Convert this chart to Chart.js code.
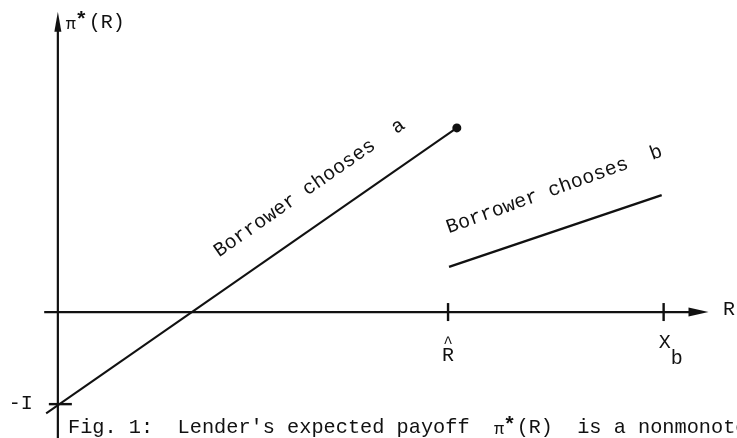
<!DOCTYPE html>
<html>
<head>
<meta charset="utf-8">
<script src="https://cdn.jsdelivr.net/npm/chart.js@4/dist/chart.umd.min.js"></script>
<style>
  html, body { margin: 0; padding: 0; background: #fff; }
  #wrap { width: 737px; height: 438px; }
</style>
</head>
<body>
<div id="wrap"><canvas id="fig" width="737" height="438"></canvas></div>
<script>
// データ（R軸・π*軸の値）
var lineA_R = [-0.12, 4.09];
var lineA_pi = [-1.1, 2.0];
var lineB_R = [4.01, 6.19];
var lineB_pi = [0.49, 1.27];
var xTickValues = [4, 6.21];
var xTickLabels = ["R", "X"];
var yTickValues = [-1];
var yTickLabels = ["-I"];
var axisX = [-0.14, 6.67];
var axisY = [-1.4, 3.26];

var FONT = '"Liberation Mono", "Courier New", monospace';

function pts(xs, ys) {
  return xs.map(function (x, i) { return { x: x, y: ys[i] }; });
}

// 軸・目盛り・文字
var figurePlugin = {
  id: "figure",
  afterDatasetsDraw: function (chart) {
    var ctx = chart.ctx;
    var sx = chart.scales.x, sy = chart.scales.y;
    var x0 = sx.getPixelForValue(0), y0 = sy.getPixelForValue(0);
    ctx.save();
    ctx.strokeStyle = "#111";
    ctx.fillStyle = "#111";
    ctx.lineWidth = 2.2;

    // 横軸
    var xl = sx.getPixelForValue(axisX[0]), xr = sx.getPixelForValue(axisX[1]);
    ctx.beginPath(); ctx.moveTo(xl, y0); ctx.lineTo(xr - 12, y0); ctx.stroke();
    ctx.beginPath(); ctx.moveTo(xr, y0); ctx.lineTo(xr - 20, y0 - 4.5); ctx.lineTo(xr - 20, y0 + 4.5); ctx.closePath(); ctx.fill();

    // 縦軸
    var yb = sy.getPixelForValue(axisY[0]), yt = sy.getPixelForValue(axisY[1]);
    ctx.beginPath(); ctx.moveTo(x0, yb); ctx.lineTo(x0, yt + 12); ctx.stroke();
    ctx.beginPath(); ctx.moveTo(x0, yt); ctx.lineTo(x0 - 3.5, yt + 20); ctx.lineTo(x0 + 3.5, yt + 20); ctx.closePath(); ctx.fill();

    // 目盛り
    ctx.lineWidth = 2.4;
    xTickValues.forEach(function (v) {
      var px = sx.getPixelForValue(v);
      ctx.beginPath(); ctx.moveTo(px, y0 - 9); ctx.lineTo(px, y0 + 9); ctx.stroke();
    });
    yTickValues.forEach(function (v) {
      var py = sy.getPixelForValue(v);
      ctx.beginPath(); ctx.moveTo(x0 - 9, py); ctx.lineTo(x0 + 14, py); ctx.stroke();
    });

    ctx.textBaseline = "middle";
    ctx.font = "20px " + FONT;

    // 目盛りラベル
    ctx.textAlign = "center";
    var pR = sx.getPixelForValue(xTickValues[0]);
    ctx.fillText(xTickLabels[0], pR, y0 + 44);
    ctx.font = "16px " + FONT;
    ctx.fillText("^", pR, y0 + 32);
    ctx.font = "20px " + FONT;
    var pX = sx.getPixelForValue(xTickValues[1]);
    ctx.fillText(xTickLabels[1], pX + 1, y0 + 31);
    ctx.fillText("b", pX + 13, y0 + 47);
    ctx.textAlign = "right";
    yTickValues.forEach(function (v, i) {
      ctx.fillText(yTickLabels[i], x0 - 25, sy.getPixelForValue(v));
    });

    // 軸ラベル
    ctx.textAlign = "left";
    ctx.fillText("R", 723, y0 - 2);
    drawPi(ctx, x0 + 8, 23);

    // 線のラベル
    ctx.font = "20px " + FONT;
    var aAng = Math.atan2(sy.getPixelForValue(lineA_pi[1]) - sy.getPixelForValue(lineA_pi[0]),
                          sx.getPixelForValue(lineA_R[1]) - sx.getPixelForValue(lineA_R[0]));
    ctx.save();
    ctx.translate(sx.getPixelForValue(1.62), sy.getPixelForValue(0.64));
    ctx.rotate(aAng);
    ctx.fillText("Borrower chooses  a", 0, 0);
    ctx.restore();

    ctx.save();
    ctx.translate(sx.getPixelForValue(3.99), sy.getPixelForValue(0.91));
    ctx.rotate(-19.8 * Math.PI / 180);
    ctx.fillText("Borrower chooses  b", 0, 0);
    ctx.restore();

    // キャプション
    var cx = 68, cy = 428;
    ctx.font = "20.3px " + FONT;
    var s1 = "Fig. 1:  Lender's expected payoff  ";
    ctx.fillText(s1, cx, cy);
    cx += ctx.measureText(s1).width;
    cx = drawPi(ctx, cx, cy);
    ctx.font = "20.3px " + FONT;
    ctx.fillText("  is a nonmonotonic function of R", cx, cy);

    ctx.restore();
  }
};

function drawPi(ctx, x, y) {
  ctx.font = "17px " + FONT;
  ctx.fillText("\u03C0", x, y + 1);
  x += ctx.measureText("\u03C0").width;
  ctx.font = "bold 21px " + FONT;
  ctx.fillText("*", x - 1, y - 2);
  x += ctx.measureText("*").width;
  ctx.font = "20px " + FONT;
  ctx.fillText("(R)", x, y);
  return x + ctx.measureText("(R)").width;
}

new Chart(document.getElementById("fig"), {
  type: "scatter",
  data: {
    datasets: [
      {
        label: "Borrower chooses a",
        data: pts(lineA_R, lineA_pi),
        showLine: true,
        borderColor: "#111",
        backgroundColor: "#111",
        borderWidth: 2,
        pointRadius: [0, 4.5],
        pointBorderWidth: 0
      },
      {
        label: "Borrower chooses b",
        data: pts(lineB_R, lineB_pi),
        showLine: true,
        borderColor: "#111",
        borderWidth: 2.4,
        pointRadius: 0
      }
    ]
  },
  options: {
    responsive: false,
    animation: false,
    layout: { padding: 0 },
    plugins: { legend: { display: false }, tooltip: { enabled: false } },
    scales: {
      x: { type: "linear", min: -0.547, max: 6.916, display: false },
      y: { type: "linear", min: -1.319, max: 3.340, display: false }
    }
  },
  plugins: [figurePlugin]
});
</script>
</body>
</html>
